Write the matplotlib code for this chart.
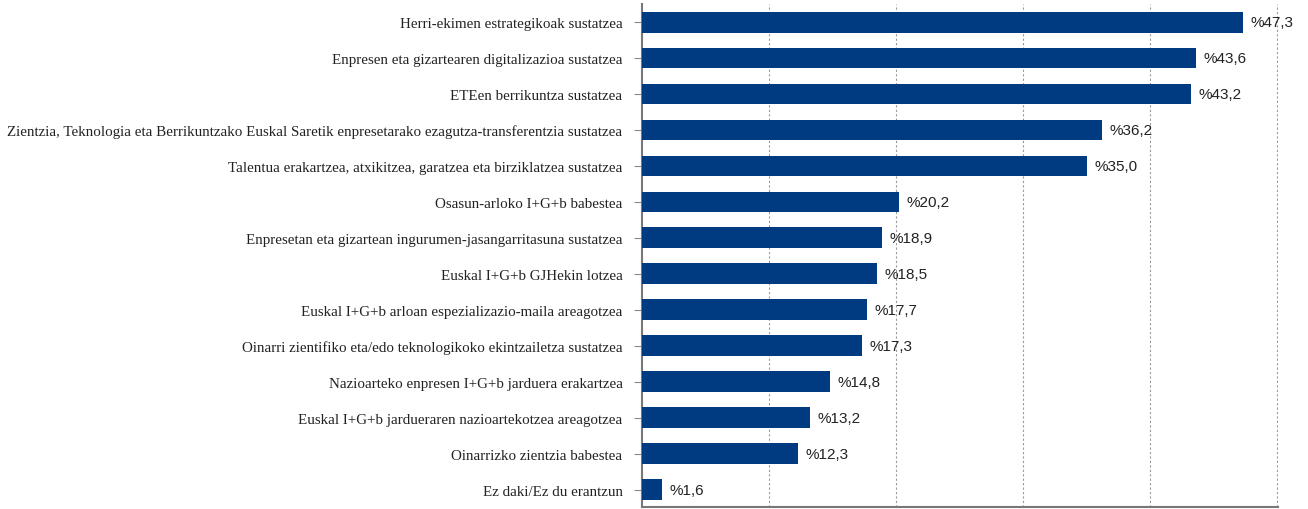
import matplotlib
matplotlib.use("Agg")
import matplotlib.pyplot as plt

categories = [
    "Herri-ekimen estrategikoak sustatzea",
    "Enpresen eta gizartearen digitalizazioa sustatzea",
    "ETEen berrikuntza sustatzea",
    "Zientzia, Teknologia eta Berrikuntzako Euskal Saretik enpresetarako ezagutza-transferentzia sustatzea",
    "Talentua erakartzea, atxikitzea, garatzea eta birziklatzea sustatzea",
    "Osasun-arloko I+G+b babestea",
    "Enpresetan eta gizartean ingurumen-jasangarritasuna sustatzea",
    "Euskal I+G+b GJHekin lotzea",
    "Euskal I+G+b arloan espezializazio-maila areagotzea",
    "Oinarri zientifiko eta/edo teknologikoko ekintzailetza sustatzea",
    "Nazioarteko enpresen I+G+b jarduera erakartzea",
    "Euskal I+G+b jardueraren nazioartekotzea areagotzea",
    "Oinarrizko zientzia babestea",
    "Ez daki/Ez du erantzun",
]
values = [47.3, 43.6, 43.2, 36.2, 35.0, 20.2, 18.9, 18.5, 17.7, 17.3, 14.8, 13.2, 12.3, 1.6]

fig = plt.figure(figsize=(13.08, 5.10), dpi=100)
ax = fig.add_axes([0.4908, 0.004, 0.4862, 0.986])

y = list(range(len(categories)))
ax.barh(y, values, height=0.58, color="#003a80", zorder=3)

for yi, v in zip(y, values):
    ax.text(v + 0.6, yi, "%" + f"{v:.1f}".replace(".", ","), va="center", ha="left",
            fontsize=11, family="Liberation Sans", color="#222222")

ax.set_xlim(0, 50.05)
ax.set_ylim(13.48, -0.5)
ax.set_xticks([10, 20, 30, 40, 50])
ax.set_xticklabels([])
ax.tick_params(axis="x", length=0)
ax.set_yticks(y)
ax.set_yticklabels(categories, family="Liberation Serif", fontsize=10.8, color="#222222")
ax.tick_params(axis="y", length=6, color="#888888", pad=8)
ax.grid(axis="x", linestyle=(0, (2, 2)), color="#999999", linewidth=0.8, zorder=0)

for side in ["top", "right"]:
    ax.spines[side].set_visible(False)
ax.spines["left"].set_color("#777777")
ax.spines["left"].set_linewidth(1.5)
ax.spines["bottom"].set_color("#777777")
ax.spines["bottom"].set_linewidth(1.5)

fig.savefig("out.png", dpi=100)
